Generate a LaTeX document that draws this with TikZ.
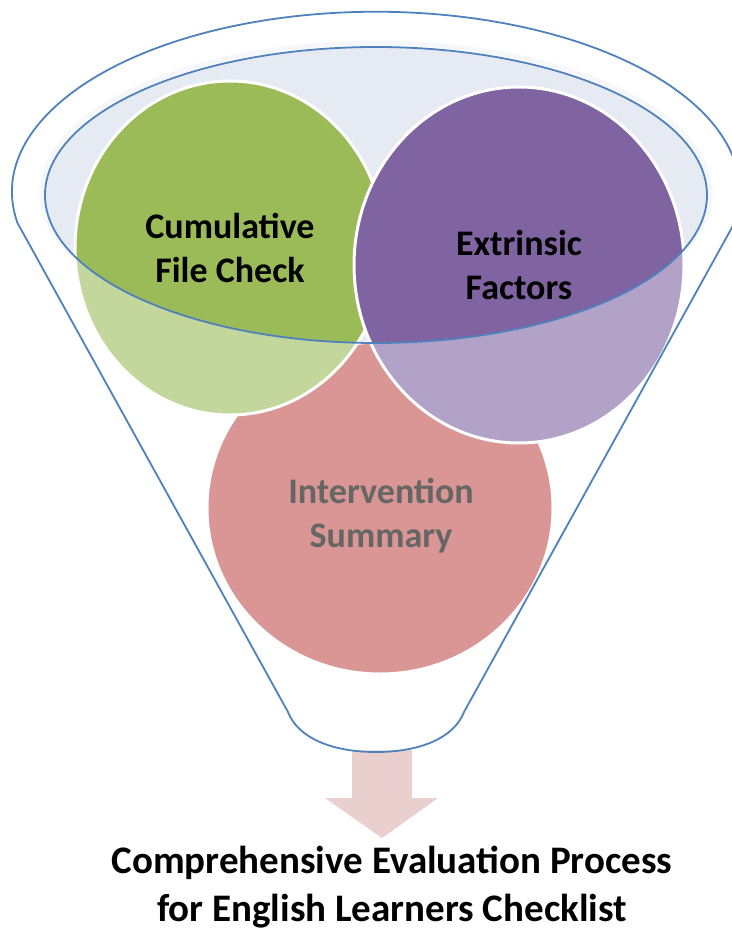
\documentclass[tikz,border=0pt]{standalone}
\usepackage{fontspec}
\setmainfont{Carlito}
\usepackage{tikz}
\usetikzlibrary{shapes.geometric}
\usetikzlibrary{positioning}
\definecolor{rimblue}{RGB}{79,129,189}
\definecolor{rimfill}{RGB}{230,234,243}
\definecolor{rimglow}{RGB}{241,243,248}
\definecolor{funnelgreen}{RGB}{155,187,89}
\definecolor{funnelpurple}{RGB}{128,100,162}
\definecolor{funnelred}{RGB}{192,80,77}
\definecolor{arrowpink}{RGB}{234,207,207}
\tikzstyle{bubble}=[ellipse,draw=white,line width=3pt,inner sep=0pt,text=black,
                align=center,font=\bfseries\fontsize{36}{44}\selectfont]
\tikzstyle{bubbletext}=[align=center,font=\bfseries\fontsize{36}{44}\selectfont]
\tikzstyle{rim}=[draw=rimblue,line width=1.8pt]
\tikzstyle{veil}=[fill=white,fill opacity=0.4,even odd rule]
\tikzstyle{caption}=[align=center,font=\bfseries\fontsize{39}{48}\selectfont]
\newcommand{\funnelpath}{(17.5,223) arc (170:370:364 and 180) -- (464,712)
  .. controls (454,738) and (420,752) .. (376,752)
  .. controls (332,752) and (298,738) .. (288,712) -- cycle}

\begin{document}
\begin{tikzpicture}[x=1pt,y=-1pt]
\useasboundingbox (0,0) rectangle (731,936);
% rim of the funnel
\draw[rimglow,line width=5pt] (376,193) ellipse (334 and 150);
\fill[rimfill] (376,195) ellipse (331 and 148);
% the three bubbles
\node[bubble,fill=funnelred,minimum width=346pt,minimum height=332pt]
  (summary) at (380,508) {};
\node[bubbletext] (summarytext) at (381,516) {Intervention\\Summary};
\node[bubble,fill=funnelgreen,minimum width=310pt,minimum height=334pt]
  (filecheck) at (230,248) {Cumulative\\File Check};
\node[bubble,fill=funnelpurple,minimum width=330pt,minimum height=356pt]
  (extrinsic) at (519,265) {Extrinsic\\Factors};
% spout arrow
\coordinate (spout) at (382,750);
\fill[arrowpink] (spout) ++(-30,0) -- ++(60,0) -- ++(0,48) -- ++(26,0)
  -- ++(-56,40) -- ++(-57,-40) -- ++(27,0) -- cycle;
% front of the funnel
\fill[veil] \funnelpath (376,195) ellipse (331 and 148);
\draw[rim] (376,195) ellipse (331 and 148);
\draw[rim] \funnelpath;
\node[caption] (checklist) at (392,887)
  {Comprehensive Evaluation Process\\for English Learners Checklist};
\end{tikzpicture}
\end{document}
